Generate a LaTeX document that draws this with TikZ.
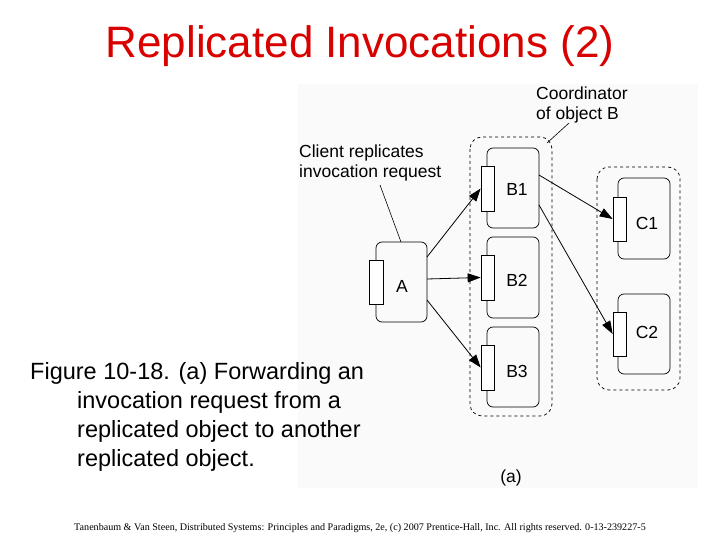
\documentclass[tikz,border=0pt]{standalone}
\usepackage{fontspec}
\setmainfont{Liberation Sans}
\newfontfamily\timesf{Liberation Serif}
\usetikzlibrary{arrows.meta}
\begin{document}
\begin{tikzpicture}[x=1pt,y=-1pt,
  obj/.style={draw,rounded corners=6pt,line width=0.7pt},
  port/.style={draw,fill=white,line width=0.7pt},
  grp/.style={draw,dashed,rounded corners=12pt,line width=0.7pt},
  lab/.style={font=\fontsize{17.5}{18}\selectfont},
  small/.style={font=\fontsize{17.5}{20}\selectfont,align=left,anchor=north west,inner sep=0pt},
  arr/.style={-{Triangle[length=13pt,width=9pt]},line width=0.8pt},
  lead/.style={line width=0.6pt}]
\useasboundingbox (0,0) rectangle (720,540);
\fill[white] (0,0) rectangle (720,540);
\fill[black!2] (298,84) rectangle (698,488);
\node[font=\fontsize{44}{46}\selectfont,text=red!85!black] (title) at (360,46) {Replicated Invocations (2)};
% groups
\draw[grp] (470,137) rectangle (552,416);
\draw[grp] (597,167) rectangle (680,390);
% objects
\draw[obj] (376,242) rectangle (427,322); \node[port,minimum width=14pt,minimum height=44pt,inner sep=0pt] (pA) at (376,282) {};
\node[lab] (A) at (402,286) {A};
\draw[obj] (487,148) rectangle (539,228); \node[port,minimum width=13pt,minimum height=45pt,inner sep=0pt] (pB1) at (487.5,188.5) {};
\draw[obj] (487,237) rectangle (539,318); \node[port,minimum width=13pt,minimum height=45pt,inner sep=0pt] (pB2) at (487.5,277.5) {};
\draw[obj] (487,327) rectangle (539,407); \node[port,minimum width=13pt,minimum height=45pt,inner sep=0pt] (pB3) at (487.5,367.5) {};
\draw[obj] (618,178) rectangle (670,259); \node[port,minimum width=13pt,minimum height=44pt,inner sep=0pt] (pC1) at (619.5,219) {};
\draw[obj] (618,294) rectangle (670,374); \node[port,minimum width=13pt,minimum height=44pt,inner sep=0pt] (pC2) at (619.5,334) {};
\node[lab] (B1) at (517,189) {B1};
\node[lab] (B2) at (517,280) {B2};
\node[lab] (B3) at (517,371) {B3};
\node[lab] (C1) at (647,223) {C1};
\node[lab] (C2) at (647,332) {C2};
% arrows
\coordinate (a1) at (427,257); \coordinate (a2) at (427,279); \coordinate (a3) at (427,300);
\coordinate (b1a) at (539,175); \coordinate (b1b) at (539,205);
\draw[arr] (a1) -- (pB1.west);
\draw[arr] (a2) -- (pB2.west);
\draw[arr] (a3) -- (pB3.west);
\draw[arr] (b1a) -- (pC1.west);
\draw[arr] (b1b) -- (pC2.west);
% labels
\node[small] (coord) at (536,87) {Coordinator\\of object B};
\node[small] (client) at (299,145) {Client replicates\\invocation request};
\coordinate (l1) at (547,143); \coordinate (l2) at (569,123);
\draw[lead] (l1) -- (l2);
\coordinate (l3) at (380,185); \coordinate (l4) at (401,242);
\draw[lead] (l3) -- (l4);
\node[lab] (sa) at (511,478) {(a)};
\node[font=\fontsize{23.5}{29}\selectfont,align=left,anchor=north west,inner sep=0pt] (cap) at (30,362)
 {Figure 10-18. (a) Forwarding an\\\hspace*{47pt}invocation request from a\\\hspace*{47pt}replicated object to another\\\hspace*{47pt}replicated object.};
\node[font=\timesf\fontsize{10.1}{11}\selectfont] (foot) at (360,528) {Tanenbaum \& Van Steen, Distributed Systems: Principles and Paradigms, 2e, (c) 2007 Prentice-Hall, Inc. All rights reserved. 0-13-239227-5};
\end{tikzpicture}
\end{document}
